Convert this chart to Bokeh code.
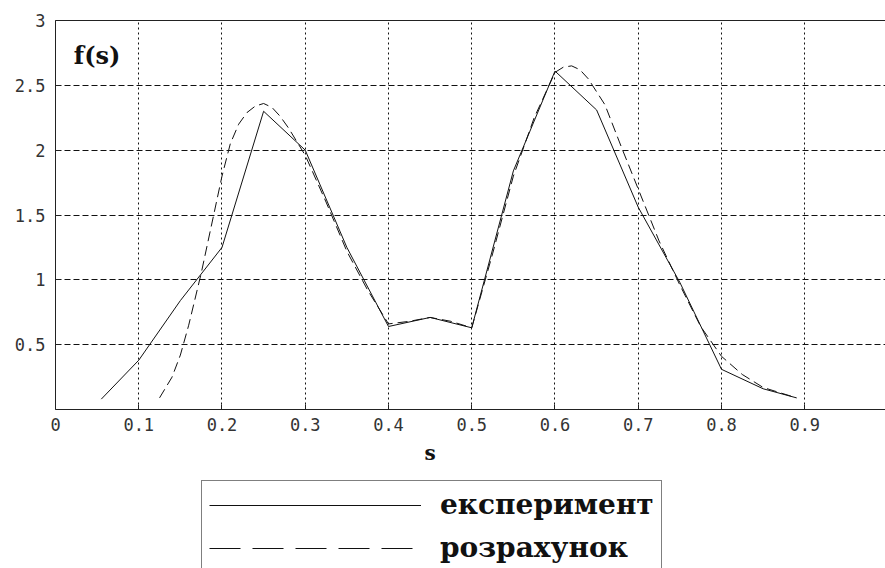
from bokeh.plotting import figure
from bokeh.layouts import column
from bokeh.models import (Range1d, FixedTicker, LinearAxis, Legend, LegendItem, Label)
from bokeh.embed import file_html
from bokeh.resources import INLINE

# experimental distribution f(s)
s_exp = [0.055, 0.10, 0.15, 0.20, 0.25, 0.30, 0.35, 0.40, 0.45, 0.50,
         0.55, 0.60, 0.65, 0.70, 0.75, 0.80, 0.85, 0.89]
f_exp = [0.08, 0.38, 0.84, 1.25, 2.30, 2.00, 1.25, 0.64, 0.71, 0.63,
         1.84, 2.61, 2.31, 1.56, 0.98, 0.31, 0.16, 0.09]

# calculated distribution f(s)
s_calc = [0.125, 0.14, 0.15, 0.16, 0.175, 0.19, 0.20, 0.21, 0.22, 0.23,
          0.24, 0.25, 0.26, 0.27, 0.28, 0.30, 0.325, 0.35, 0.375, 0.40,
          0.425, 0.45, 0.475, 0.50, 0.525, 0.55, 0.575, 0.60, 0.61, 0.62,
          0.63, 0.64, 0.66, 0.68, 0.70, 0.725, 0.75, 0.775, 0.80, 0.825,
          0.85, 0.875, 0.89]
f_calc = [0.09, 0.25, 0.42, 0.65, 1.05, 1.50, 1.80, 2.05, 2.20, 2.29,
          2.34, 2.36, 2.33, 2.26, 2.17, 1.96, 1.60, 1.22, 0.92, 0.66,
          0.68, 0.71, 0.68, 0.63, 1.20, 1.80, 2.25, 2.60, 2.64, 2.65,
          2.62, 2.55, 2.35, 2.02, 1.70, 1.30, 0.96, 0.64, 0.41, 0.27,
          0.17, 0.12, 0.09]

x_ticks = [0.0, 0.1, 0.2, 0.3, 0.4, 0.5, 0.6, 0.7, 0.8, 0.9, 1.0]
x_tick_labels = ["0", "0.1", "0.2", "0.3", "0.4", "0.5", "0.6", "0.7", "0.8", "0.9", "1"]
y_ticks = [0.5, 1.0, 1.5, 2.0, 2.5, 3.0]
y_tick_labels = ["0.5", "1", "1.5", "2", "2.5", "3"]

legend_labels = ["експеримент", "розрахунок"]

TICK_FONT = "DejaVu Sans Mono"
SERIF = "DejaVu Serif"
INK = "#111111"
CALC_DASH = "10 5"
X_RANGE = (0, 0.997)
NAN = float("nan")

# ---- main axes -------------------------------------------------------
p = figure(width=885, height=438,
           x_range=Range1d(*X_RANGE), y_range=Range1d(0, 3),
           output_backend="svg", toolbar_location=None,
           min_border_left=55, min_border_right=0,
           min_border_top=20, min_border_bottom=29)
p.outline_line_color = None
p.background_fill_color = "white"
p.border_fill_color = "white"

p.line(s_exp, f_exp, line_color=INK, line_width=1)
p.line(s_calc, f_calc, line_color=INK, line_width=1, line_dash=CALC_DASH)

for ax in (p.xaxis[0], p.yaxis[0]):
    ax.axis_line_color = "#222222"
    ax.axis_line_width = 1
    ax.major_tick_in = 5
    ax.major_tick_out = 0
    ax.minor_tick_line_color = None
    ax.major_tick_line_color = "#222222"
    ax.major_label_text_font = TICK_FONT
    ax.major_label_text_font_size = "17px"
    ax.major_label_text_color = "#333333"

p.xaxis.ticker = FixedTicker(ticks=x_ticks)
p.xaxis.major_label_overrides = dict(zip(x_ticks, x_tick_labels))
p.xaxis.major_label_standoff = 8
p.yaxis.ticker = FixedTicker(ticks=y_ticks)
p.yaxis.major_label_overrides = dict(zip(y_ticks, y_tick_labels))
p.yaxis.major_label_standoff = 10

# top edge of the box (no ticks, no labels)
top = LinearAxis(ticker=FixedTicker(ticks=[]),
                 major_tick_in=0, major_tick_out=0,
                 minor_tick_line_color=None,
                 axis_line_color="#222222")
p.add_layout(top, "above")

p.xgrid.ticker = FixedTicker(ticks=x_ticks)
p.xgrid.grid_line_color = INK
p.xgrid.grid_line_dash = "2 3"
p.ygrid.ticker = FixedTicker(ticks=y_ticks)
p.ygrid.grid_line_color = INK
p.ygrid.grid_line_dash = "6 3"

p.add_layout(Label(x=0.022, y=2.73, text="f(s)", text_font=SERIF,
                   text_font_style="bold", text_font_size="24px",
                   text_baseline="middle", text_color=INK))

# ---- axis title and legend strip ---------------------------------------
q = figure(width=885, height=130,
           x_range=Range1d(*X_RANGE), y_range=Range1d(0, 1),
           output_backend="svg", toolbar_location=None,
           x_axis_location=None, y_axis_location=None,
           min_border_left=55, min_border_right=0,
           min_border_top=0, min_border_bottom=0)
q.outline_line_color = None
q.grid.visible = False
q.background_fill_color = "white"
q.border_fill_color = "white"

q.add_layout(Label(x=0.45, y=116, y_units="screen", text="s",
                   text_font=SERIF, text_font_style="bold",
                   text_font_size="20px", text_align="center",
                   text_baseline="middle", text_color=INK))

# legend keys for the two series
k_exp = q.line([NAN], [NAN], line_color=INK, line_width=1.2)
k_calc = q.line([NAN], [NAN], line_color=INK, line_width=1.2, line_dash="31 12")

legend = Legend(items=[LegendItem(label=legend_labels[0], renderers=[k_exp]),
                       LegendItem(label=legend_labels[1], renderers=[k_calc])],
                location=(146, -4), margin=0, padding=7,
                glyph_width=212, glyph_height=20, label_height=20,
                label_standoff=19, spacing=10,
                label_text_font=SERIF, label_text_font_style="bold",
                label_text_font_size="28px", label_text_color=INK,
                border_line_color="#000000", border_line_width=1.5,
                background_fill_color="white", background_fill_alpha=1)
q.add_layout(legend)

layout = column(p, q, spacing=0)
open("out.html", "w").write(file_html(layout, INLINE))
